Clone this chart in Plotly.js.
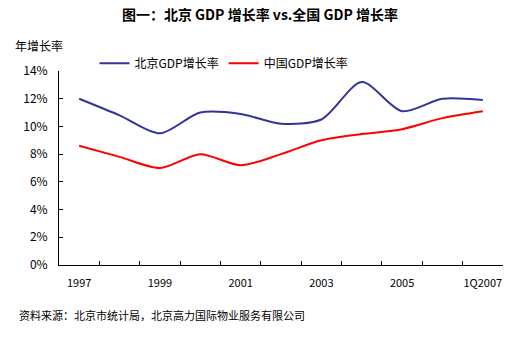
<!DOCTYPE html>
<html><head><meta charset="utf-8">
<script src="https://cdn.plot.ly/plotly-3.0.1.min.js"></script>
<style>html,body{margin:0;padding:0;background:#fff}#c{width:520px;height:346px}</style>
</head><body><div id="c"></div>
<script>
const categories = ['1997','1998','1999','2000','2001','2002','2003','2004','2005','2006','1Q2007'];
const tickLabels = ['1997','','1999','','2001','','2003','','2005','','1Q2007'];
const beijingGDP = [12.0, 10.8, 9.5, 11.0, 10.9, 10.2, 10.5, 13.2, 11.1, 12.0, 11.9];
const chinaGDP = [8.6, 7.8, 7.0, 8.0, 7.2, 8.0, 9.0, 9.45, 9.8, 10.6, 11.1];
const yTicks = [0, 2, 4, 6, 8, 10, 12, 14];
const yTickText = yTicks.map(v => v + '%');

const FONT = '"Noto Sans CJK SC", "Liberation Sans", Arial, sans-serif';
const traces = [
  {x: categories, y: beijingGDP, name: '北京GDP增长率', type: 'scatter', mode: 'lines',
   line: {color: '#333399', width: 2, shape: 'spline', smoothing: 0.8}},
  {x: categories, y: chinaGDP, name: '中国GDP增长率', type: 'scatter', mode: 'lines',
   line: {color: '#FF0000', width: 2, shape: 'spline', smoothing: 0.8}}
];
const layout = {
  width: 520, height: 346,
  margin: {l: 59, r: 17, t: 71, b: 81},
  paper_bgcolor: '#fff', plot_bgcolor: '#fff',
  font: {family: FONT, size: 12, color: '#000'},
  title: {text: '<b>图一：北京 GDP 增长率 vs.全国 GDP 增长率</b>', x: 0.5, xanchor: 'center', y: 0.955, yanchor: 'middle',
          font: {family: FONT, size: 14, color: '#000'}},
  showlegend: true,
  legend: {orientation: 'h', x: 0.08, y: 1.04, xanchor: 'left', yanchor: 'middle',
           bgcolor: 'rgba(0,0,0,0)', font: {size: 12}, itemwidth: 30, tracegroupgap: 0},
  xaxis: {type: 'category', range: [-0.5, 10.5], tickson: 'boundaries', tickvals: categories, ticktext: tickLabels,
          showline: true, linecolor: '#000', linewidth: 1, ticks: 'inside', ticklen: 4, tickcolor: '#000',
          showgrid: false, zeroline: false, tickangle: 0, tickfont: {size: 11}, ticklabelstandoff: 8},
  yaxis: {range: [0, 14], tickvals: yTicks, ticktext: yTickText, showline: true, linecolor: '#000',
          linewidth: 1, ticks: 'inside', ticklen: 4, tickcolor: '#000', showgrid: false, zeroline: false,
          tickfont: {size: 12}, ticklabelstandoff: 8},
  annotations: [
    {text: '年增长率', xref: 'paper', yref: 'paper', x: -0.104, y: 1.13, xanchor: 'left', yanchor: 'middle',
     showarrow: false, font: {size: 12}},
    {text: '资料来源：北京市统计局，北京高力国际物业服务有限公司', xref: 'paper', yref: 'paper', x: -0.095, y: -0.26,
     xanchor: 'left', yanchor: 'middle', showarrow: false, font: {size: 11}}
  ]
};
Plotly.newPlot('c', traces, layout, {staticPlot: true});
</script></body></html>
